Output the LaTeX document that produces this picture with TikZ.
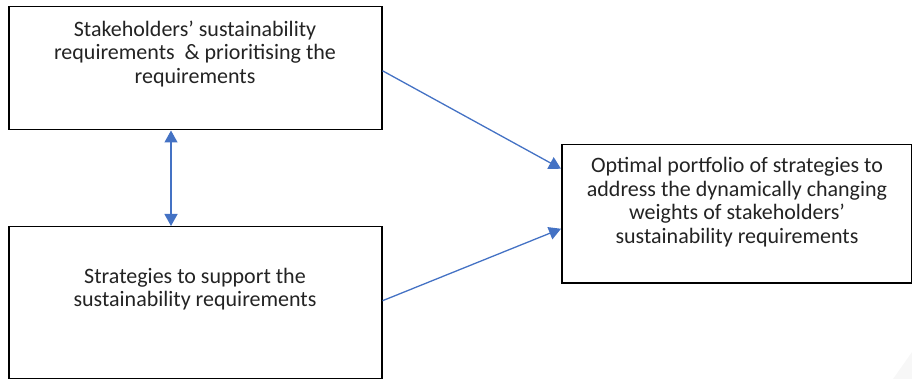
\documentclass[tikz,border=0pt]{standalone}
\usepackage{fontspec}
\setmainfont{Carlito}
\usetikzlibrary{arrows.meta}
\definecolor{arrowblue}{RGB}{68,114,196}
\definecolor{txtgray}{RGB}{35,35,35}
\tikzset{
  box/.style={draw=black, line width=1.5pt, inner sep=0pt, anchor=north west},
  lbl/.style={align=center, font=\fontsize{22}{23.5}\selectfont, text=txtgray, inner sep=0pt},
  conn/.style={draw=arrowblue, line width=1.3pt, -{Triangle[length=12pt,width=13pt]}},
  dconn/.style={draw=arrowblue, line width=1.3pt, {Triangle[length=12pt,width=13pt]}-{Triangle[length=12pt,width=13pt]}}
}
\begin{document}
\begin{tikzpicture}[x=1pt,y=-1pt]
\useasboundingbox (0,0) rectangle (912,379);
\fill[gray!6] (893,379) -- (912,352) -- (912,379) -- cycle;
\node[box, minimum width=373pt, minimum height=123pt] (b1) at (8,6) {};
\node[box, minimum width=373pt, minimum height=152pt] (b2) at (8,226) {};
\node[box, minimum width=350pt, minimum height=138pt] (b3) at (561,144) {};
\node[lbl] (t1) at (195,54) {Stakeholders’ sustainability\\requirements \ \& prioritising the\\requirements};
\node[lbl] (t2) at (195,289) {Strategies to support the\\sustainability requirements};
\node[lbl] (t3) at (737,202) {Optimal portfolio of strategies to\\address the dynamically changing\\weights of stakeholders’\\sustainability requirements};
\draw[conn] ([yshift=-2.5pt]b1.east) -- ([yshift=45pt]b3.west);
\draw[conn] ([yshift=2pt]b2.east) -- ([yshift=-15pt]b3.west);
\draw[dconn] ([xshift=163pt]b1.south west) -- ([xshift=163pt]b2.north west);
\end{tikzpicture}
\end{document}
